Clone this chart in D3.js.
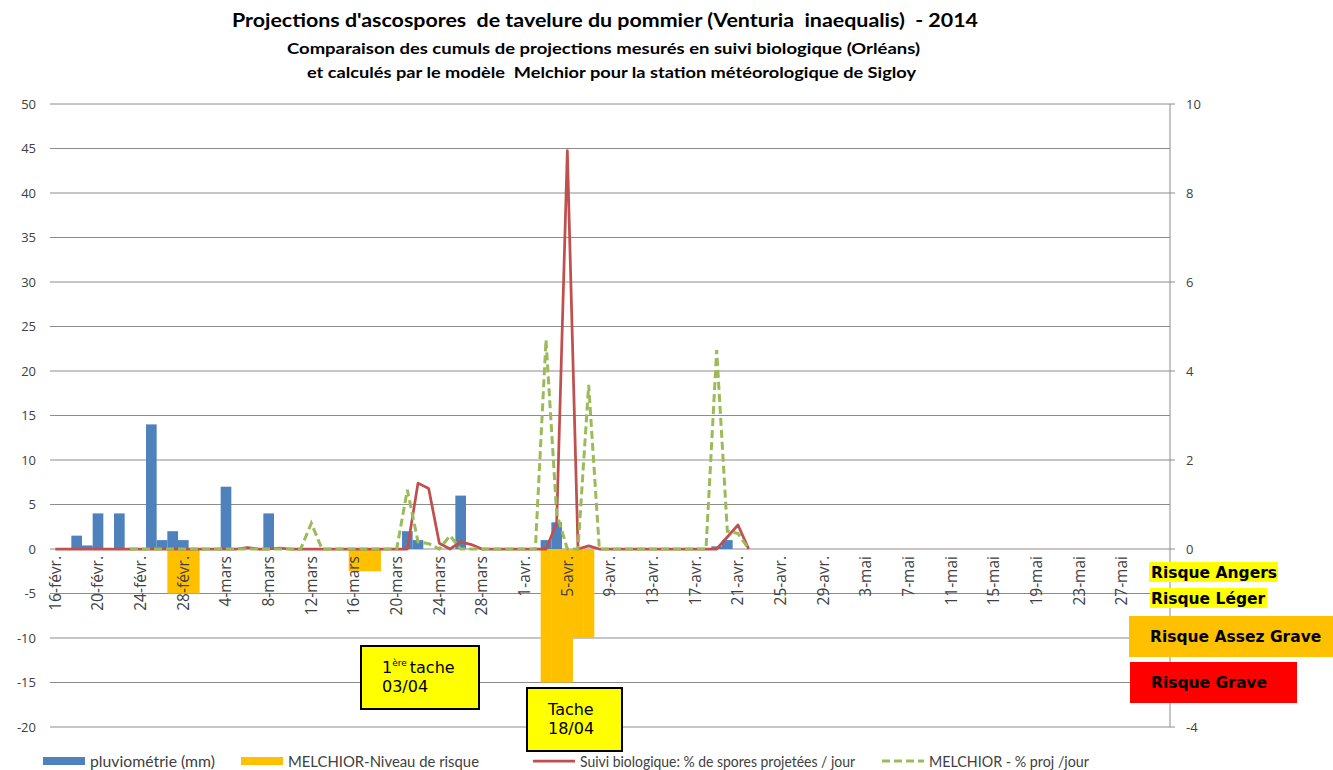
<!DOCTYPE html>
<html>
<head>
<meta charset="utf-8">
<script src="https://cdn.jsdelivr.net/npm/d3@7/dist/d3.min.js"></script>
<style>
  body { margin: 0; background: #fff; }
  svg { display: block; }
  .tick-label { font-family: "Open Sans", sans-serif; font-size: 13px; fill: #404040; }
  .date-label { font-family: "Open Sans", sans-serif; font-size: 15.5px; fill: #404040; }
  .legend { font-family: Lato, sans-serif; font-size: 14.5px; fill: #404040; }
  .title { font-family: Lato, sans-serif; font-weight: bold; fill: #000; white-space: pre; }
  .risk { font-family: "DejaVu Sans", sans-serif; font-weight: bold; font-size: 15.5px; fill: #000; }
  .note { font-family: "DejaVu Sans", sans-serif; font-size: 16px; fill: #000; }
</style>
</head>
<body>
<div id="chart"></div>
<script>
// categories: one per day, 16 févr. -> 31 mai 2014
const startDay = new Date(2014, 1, 16);
const endDay = new Date(2014, 5, 1);
const monthNames = ["janv.", "févr.", "mars", "avr.", "mai", "juin"];
const labelEvery = 4;
const lastLabel = 100; // 27-mai, the last one shown

// pluviométrie (mm), from 16 févr.
const rain = [0, 0, 1.5, 0.4, 4, 0, 4, 0, 0, 14, 1, 2, 1, 0, 0, 0, 7, 0, 0, 0,
  4, 0, 0, 0, 0, 0, 0, 0, 0, 0, 0, 0, 0, 2, 1, 0, 0, 0, 6, 0,
  0, 0, 0, 0, 0, 0, 1, 3, 0, 0, 0, 0, 0, 0, 0, 0, 0, 0, 0, 0,
  0, 0, 0.3, 1, 0, 0];

// MELCHIOR - niveau de risque (negative bars, left axis)
const risk = [0, 0, 0, 0, 0, 0, 0, 0, 0, 0, 0, -5, -5, -5, 0, 0, 0, 0, 0, 0,
  0, 0, 0, 0, 0, 0, 0, 0, -2.5, -2.5, -2.5, 0, 0, 0, 0, 0, 0, 0, 0, 0,
  0, 0, 0, 0, 0, 0, -15, -15, -15, -10, -10, 0, 0, 0, 0, 0, 0, 0, 0, 0,
  0, 0, 0, 0, 0, 0];

// Suivi biologique: % de spores projetées / jour (right axis)
const suivi = [0, 0, 0, 0, 0, 0, 0, 0, 0, 0, 0, 0, 0, 0, 0, 0, 0, 0, 0.03, 0,
  0, 0.02, 0, 0, 0, 0, 0, 0, 0, 0, 0, 0, 0, 0, 1.48, 1.36, 0.13, 0, 0.16, 0.1,
  0, 0, 0, 0, 0, 0, 0, 0.58, 8.95, 0, 0.07, 0, 0, 0, 0, 0, 0, 0, 0, 0,
  0, 0, 0, 0.27, 0.54, 0];

// MELCHIOR - % proj / jour (right axis), starts 23 févr.
const melchior = [null, null, null, null, null, null, null, 0, 0, 0, 0, 0, 0, 0, 0, 0, 0, 0, 0, 0,
  0, 0, 0, 0, 0.58, 0, 0, 0, 0, 0, 0, 0, 0, 1.33, 0.16, 0.12, 0, 0.3, 0, 0,
  0, 0, 0, 0, 0, 0, 4.7, 0.8, 0, 0, 3.69, 0, 0, 0, 0, 0, 0, 0, 0, 0,
  0, 0, 4.47, 0.4, 0.35, 0];

const leftTicks = d3.range(-20, 51, 5);
const rightTicks = d3.range(-4, 11, 2);
const hiddenRightTicks = [-2]; // sits behind the "Risque Assez Grave" box

const titleLines = [
  "Projections d'ascospores  de tavelure du pommier (Venturia  inaequalis)  - 2014",
  "Comparaison des cumuls de projections mesurés en suivi biologique (Orléans)",
  "et calculés par le modèle  Melchior pour la station météorologique de Sigloy"
];
const seriesNames = ["pluviométrie (mm)", "MELCHIOR-Niveau de risque",
  "Suivi biologique: % de spores projetées / jour", "MELCHIOR - % proj /jour"];
const riskLegend = ["Risque Angers", "Risque Léger", "Risque Assez Grave", "Risque Grave"];

const colors = {rain: "#4F81BD", risk: "#FFC000", suivi: "#C0504D", melchior: "#9BBB59", grid: "#8c8c8c"};

const days = d3.timeDay.range(startDay, endDay);
const fmtDay = d => d.getDate() + "-" + monthNames[d.getMonth()];

const W = 1333, H = 770;
const plot = {left: 50, right: 1170, top: 104, bottom: 727};

const svg = d3.select("#chart").append("svg").attr("width", W).attr("height", H);

const x = d3.scaleBand().domain(d3.range(days.length)).range([plot.left, plot.right]).padding(0);
const yL = d3.scaleLinear().domain([-20, 50]).range([plot.bottom, plot.top]);
const yR = d3.scaleLinear().domain([-4, 10]).range([plot.bottom, plot.top]);
const cx = i => x(i) + x.bandwidth() / 2;

// title
const tLayout = [
  {size: 19, y: 27, cx: 605, len: 746},
  {size: 15, y: 54, cx: 603.5, len: 633},
  {size: 15, y: 78, cx: 611.5, len: 609}
];
titleLines.forEach((t, i) => {
  const l = tLayout[i];
  svg.append("text").attr("class", "title")
    .attr("x", l.cx - l.len / 2).attr("y", l.y)
    .attr("textLength", l.len).attr("lengthAdjust", "spacingAndGlyphs")
    .style("font-size", l.size + "px")
    .text(t);
});

// gridlines
svg.append("g").selectAll("line").data(leftTicks).join("line")
  .attr("x1", plot.left).attr("x2", plot.right)
  .attr("y1", d => yL(d)).attr("y2", d => yL(d))
  .attr("stroke", colors.grid).attr("stroke-width", 1);

// left axis labels
svg.append("g").selectAll("text").data(leftTicks).join("text")
  .attr("class", "tick-label")
  .attr("x", 36).attr("y", d => yL(d)).attr("dy", "0.35em")
  .attr("text-anchor", "end")
  .text(d => d);

// right axis
svg.append("line")
  .attr("x1", plot.right).attr("x2", plot.right)
  .attr("y1", plot.top).attr("y2", plot.bottom)
  .attr("stroke", colors.grid);
svg.append("g").selectAll("line").data(rightTicks).join("line")
  .attr("x1", plot.right).attr("x2", plot.right + 5)
  .attr("y1", d => yR(d)).attr("y2", d => yR(d))
  .attr("stroke", colors.grid);
svg.append("g").selectAll("text").data(rightTicks.filter(d => !hiddenRightTicks.includes(d))).join("text")
  .attr("class", "tick-label")
  .attr("x", 1186).attr("y", d => yR(d)).attr("dy", "0.35em")
  .text(d => d);

// bars
svg.append("g").selectAll("rect").data(rain.map((v, i) => ({i, v})).filter(d => d.v > 0)).join("rect")
  .attr("x", d => x(d.i)).attr("width", x.bandwidth())
  .attr("y", d => yL(d.v)).attr("height", d => yL(0) - yL(d.v))
  .attr("fill", colors.rain);

svg.append("g").selectAll("rect").data(risk.map((v, i) => ({i, v})).filter(d => d.v < 0)).join("rect")
  .attr("x", d => x(d.i)).attr("width", x.bandwidth() + 0.3)
  .attr("y", yL(0)).attr("height", d => yL(d.v) - yL(0))
  .attr("fill", colors.risk);

// date labels
svg.append("g").selectAll("text")
  .data(days.map((d, i) => ({d, i})).filter(d => d.i % labelEvery === 0 && d.i <= lastLabel))
  .join("text")
  .attr("class", "date-label")
  .attr("transform", d => `translate(${cx(d.i)},${yL(0) + 7}) rotate(-90)`)
  .attr("dy", "0.35em")
  .attr("text-anchor", "end")
  .text(d => fmtDay(d.d));

// lines
const line = d3.line()
  .defined(d => d != null)
  .x((d, i) => cx(i))
  .y(d => yR(d));

svg.append("path").datum(suivi)
  .attr("d", line)
  .attr("fill", "none").attr("stroke", colors.suivi).attr("stroke-width", 2.75)
  .attr("stroke-linejoin", "round");

svg.append("path").datum(melchior)
  .attr("d", line)
  .attr("fill", "none").attr("stroke", colors.melchior).attr("stroke-width", 3)
  .attr("stroke-dasharray", "8,4");

// annotation boxes
const notes = [
  {x: 361, y: 646, w: 118, h: 63, tx: 382, ty: [673, 692]},
  {x: 527, y: 688, w: 95, h: 63, tx: 548, ty: [715, 734]}
];
notes.forEach((n, j) => {
  svg.append("rect").attr("x", n.x).attr("y", n.y).attr("width", n.w).attr("height", n.h)
    .attr("fill", "#FFFF00").attr("stroke", "#000").attr("stroke-width", 2);
  const t1 = svg.append("text").attr("class", "note").attr("x", n.tx).attr("y", n.ty[0]);
  if (j === 0) {
    t1.append("tspan").text("1");
    t1.append("tspan").attr("dy", -7).style("font-size", "9px").text("ère");
    t1.append("tspan").attr("dy", 7).attr("dx", 3).text("tache");
  } else {
    t1.text("Tache");
  }
  svg.append("text").attr("class", "note").attr("x", n.tx).attr("y", n.ty[1])
    .text(j === 0 ? "03/04" : "18/04");
});

// risk legend (right)
const riskBoxes = [
  {x: 1149, y: 562, w: 129, h: 20, fill: "#FFFF00", tx: 1151},
  {x: 1150, y: 588, w: 117, h: 20, fill: "#FFFF00", tx: 1151},
  {x: 1129, y: 616, w: 204, h: 41, fill: "#FFC000", tx: 1150},
  {x: 1130, y: 662, w: 167, h: 41, fill: "#FF0000", tx: 1151}
];
riskLegend.forEach((label, i) => {
  const b = riskBoxes[i];
  svg.append("rect").attr("x", b.x).attr("y", b.y).attr("width", b.w).attr("height", b.h).attr("fill", b.fill);
  svg.append("text").attr("class", "risk")
    .attr("x", b.tx)
    .attr("y", b.y + b.h / 2).attr("dy", "0.36em")
    .text(label);
});

// bottom legend
const legX = [43, 241, 533, 882];
const legLen = [125, 191, 275, 160];
const lg = svg.append("g");
seriesNames.forEach((name, i) => {
  const gx = legX[i];
  if (i < 2) {
    lg.append("rect").attr("x", gx).attr("y", 757).attr("width", 42).attr("height", 8)
      .attr("fill", i === 0 ? colors.rain : colors.risk);
  } else {
    lg.append("line").attr("x1", gx).attr("x2", gx + 42).attr("y1", 761).attr("y2", 761)
      .attr("stroke", i === 2 ? colors.suivi : colors.melchior)
      .attr("stroke-width", i === 2 ? 2.75 : 3)
      .attr("stroke-dasharray", i === 3 ? "8,4" : null);
  }
  lg.append("text").attr("class", "legend").attr("x", gx + 47).attr("y", 767)
    .attr("textLength", legLen[i]).attr("lengthAdjust", "spacingAndGlyphs")
    .text(name);
});
</script>
</body>
</html>
